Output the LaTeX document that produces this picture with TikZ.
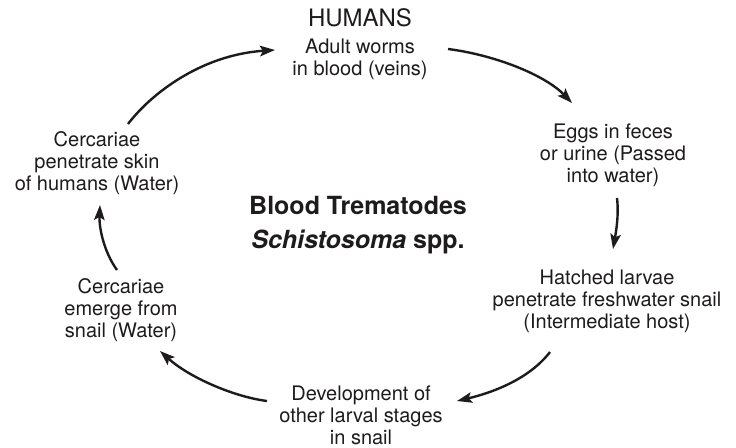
\documentclass[tikz,border=0pt]{standalone}
\usepackage{fontspec}
\setmainfont{TeX Gyre Heros}
\usetikzlibrary{arrows.meta}
\definecolor{ink}{RGB}{30,27,28}
\tikzset{
  stage/.style={align=center, inner sep=0pt, text=ink, font=\fontsize{20}{22}\selectfont},
  cyc/.style={draw=ink, line width=2.4pt, -{Stealth[length=15pt,width=10.5pt,inset=3pt]}}
}
\begin{document}
\begin{tikzpicture}[x=1pt,y=-1pt]
\useasboundingbox[fill=white] (0,0) rectangle (736,447);
% texts
\node[stage, font=\fontsize{24}{26}\selectfont] (humans) at (360,18) {HUMANS};
\node[stage] (adult) at (360,59) {Adult worms\\in blood (veins)};
\node[stage] (eggs) at (613,155) {Eggs in feces\\or urine (Passed\\into water)};
\node[stage] (hatched) at (607,301) {Hatched larvae\\penetrate freshwater snail\\(Intermediate host)};
\node[stage] (devel) at (361,415) {Development of\\other larval stages\\in snail};
\node[stage] (emerge) at (121,310) {Cercariae\\emerge from\\snail (Water)};
\node[stage] (penetr) at (97,163) {Cercariae\\penetrate skin\\of humans (Water)};
\node[stage, font=\fontsize{25}{34}\selectfont\bfseries] (title) at (358,225) {Blood Trematodes\\\textit{Schistosoma} spp.};
% connector ends
\coordinate (a1) at (448,49);   \coordinate (e1) at (572,103);
\coordinate (e2) at (617,198);  \coordinate (h2) at (613,249);
\coordinate (h3) at (550,352);  \coordinate (d3) at (457,401);
\coordinate (d4) at (267,401);  \coordinate (m4) at (160,351);
\coordinate (m5) at (117,270);  \coordinate (p5) at (100,205);
\coordinate (p6) at (128,124);  \coordinate (a6) at (275,50);
% connectors
\draw[cyc] (a1) .. controls (495,55) and (545,75) .. (e1);
\draw[cyc] (e2) .. controls (619,215) and (616,232) .. (h2);
\draw[cyc] (h3) .. controls (530,378) and (495,392) .. (d3);
\draw[cyc] (d4) .. controls (235,397) and (190,378) .. (m4);
\draw[cyc] (m5) .. controls (104,252) and (99,228) .. (p5);
\draw[cyc] (p6) .. controls (150,95) and (200,55) .. (a6);
\end{tikzpicture}
\end{document}
